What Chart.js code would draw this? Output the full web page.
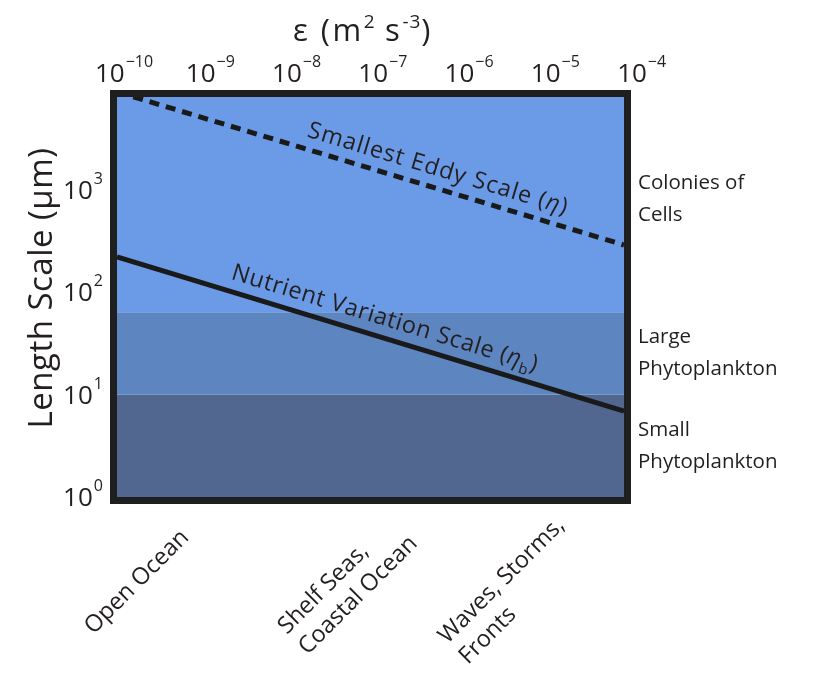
<!DOCTYPE html>
<html>
<head>
<meta charset="utf-8">
<script src="https://cdn.jsdelivr.net/npm/chart.js@4/dist/chart.umd.min.js"></script>
<style>
  html, body { margin: 0; padding: 0; background: #ffffff; }
  #wrap { width: 819px; height: 673px; }
</style>
</head>
<body>
<div id="wrap"><canvas id="c" width="819" height="673"></canvas></div>
<script>
// Decades of the dissipation rate ε (m² s⁻³) on the top axis
const epsTickExponents = [-10, -9, -8, -7, -6, -5, -4];
// Decades of length (µm) on the left axis
const lengthTickExponents = [0, 1, 2, 3];
const epsRange = [1e-10, 1e-4];
const lengthRange = [1, 8100];

// Smallest eddy (Kolmogorov) scale η and nutrient variation (Batchelor) scale η_b, µm
const eddyScale = [{ x: 1e-10, y: 9100 }, { x: 1e-4, y: 290 }];
const nutrientScale = [{ x: 1e-10, y: 222 }, { x: 1e-4, y: 6.9 }];

// Organism size classes: lower and upper bound of each band, µm
const bandBottoms = [1, 10, 64];
const bandTops = [10, 64, 8100];
const bandNames = [['Small', 'Phytoplankton'], ['Large', 'Phytoplankton'], ['Colonies of', 'Cells']];

// Flow regimes written under the plot
const regimeNames = [['Open Ocean'], ['Shelf Seas,', 'Coastal Ocean'], ['Waves, Storms,', 'Fronts']];

const FONT = "'Open Sans', 'Noto Sans', sans-serif";
const INK = '#231f20';
const bandColors = ['#52678f', '#5d85bf', '#6b9be7'];

function flat(v) { return [{ x: epsRange[0], y: v }, { x: epsRange[1], y: v }]; }

// Band fills: each band is filled down to the previous one
const bandSets = bandTops.map((top, i) => ({
  data: flat(top),
  borderWidth: 0,
  pointRadius: 0,
  backgroundColor: bandColors[i],
  fill: i === 0 ? { value: bandBottoms[0] } : '-1',
  order: 10 - i
}));

function setFont(ctx, size, style, spacing) {
  ctx.font = (style || '') + ' ' + size + 'px ' + FONT;
  ctx.letterSpacing = (spacing || 0) + 'px';
}

function drawPow(ctx, exp, x, baseY, align) {
  setFont(ctx, 26);
  const wb = ctx.measureText('10').width;
  setFont(ctx, 16);
  const es = String(exp).replace('-', '\u2212');
  const we = ctx.measureText(es).width + 1;
  const total = wb + we;
  const sx = align === 'right' ? x - total : x - total / 2;
  ctx.textAlign = 'left';
  ctx.textBaseline = 'alphabetic';
  setFont(ctx, 26);
  ctx.fillText('10', sx, baseY);
  setFont(ctx, 16);
  ctx.fillText(es, sx + wb + 1, baseY - 15);
}

function drawSegments(ctx, segs, x, y) {
  let cx = x;
  for (const s of segs) {
    setFont(ctx, s.size, s.style, s.sp);
    ctx.fillText(s.t, cx, y + (s.dy || 0));
    cx += ctx.measureText(s.t).width;
  }
}

function drawAlong(ctx, meta, xScale, epsStart, gap, segs) {
  const p0 = meta.data[0], p1 = meta.data[1];
  const ang = Math.atan2(p1.y - p0.y, p1.x - p0.x);
  const px = xScale.getPixelForValue(epsStart);
  const t = (px - p0.x) / (p1.x - p0.x);
  const py = p0.y + t * (p1.y - p0.y);
  ctx.save();
  ctx.translate(px, py);
  ctx.rotate(ang);
  ctx.textAlign = 'left';
  ctx.textBaseline = 'alphabetic';
  drawSegments(ctx, segs, 0, -gap);
  ctx.restore();
}

const decor = {
  id: 'decor',
  beforeDraw(chart) {
    const ctx = chart.ctx;
    ctx.save();
    ctx.fillStyle = '#ffffff';
    ctx.fillRect(0, 0, chart.width, chart.height);
    ctx.restore();
  },
  afterDatasetsDraw(chart) {
    const { ctx, chartArea: a, scales } = chart;
    const xs = scales.x, ys = scales.y;
    ctx.save();
    ctx.fillStyle = INK;

    // Line annotations
    const ann = 23.5;
    drawAlong(ctx, chart.getDatasetMeta(3), xs, Math.pow(10, -7.8), 12, [
      { t: 'Smallest Eddy Scale (', size: ann, sp: 1 },
      { t: 'η', size: ann, style: 'italic', sp: 1 },
      { t: ')', size: ann, sp: 1 }
    ]);
    drawAlong(ctx, chart.getDatasetMeta(4), xs, Math.pow(10, -8.7), 12, [
      { t: 'Nutrient Variation Scale (', size: ann, sp: 0.6 },
      { t: 'η', size: ann, style: 'italic', sp: 0.6 },
      { t: 'b', size: 15, dy: 6, sp: 0.6 },
      { t: ')', size: ann, sp: 0.6 }
    ]);

    // Frame
    ctx.strokeStyle = '#1f1f1f';
    ctx.lineWidth = 7;
    ctx.strokeRect(a.left - 3.5, a.top - 3.5, a.right - a.left + 7, a.bottom - a.top + 7);

    // Top axis ticks
    for (const e of epsTickExponents) {
      const x = xs.getPixelForValue(Math.pow(10, e));
      drawPow(ctx, e, x + 7 + (x - a.left) * 0.021, 82, 'center');
    }
    // Left axis ticks
    for (const e of lengthTickExponents) {
      const y = ys.getPixelForValue(Math.pow(10, e));
      drawPow(ctx, e, 103, y + 9, 'right');
    }

    // Top axis title
    ctx.textAlign = 'left';
    ctx.textBaseline = 'alphabetic';
    drawSegments(ctx, [
      { t: 'ε (m', size: 31, sp: 2.5 },
      { t: '2', size: 19, dy: -13 },
      { t: ' s', size: 31, sp: 2.5 },
      { t: '-3', size: 19, dy: -13, sp: 1 },
      { t: ')', size: 31 }
    ], 293, 41);

    // Left axis title
    ctx.save();
    ctx.translate(52, 288);
    ctx.rotate(-Math.PI / 2);
    ctx.textAlign = 'center';
    ctx.textBaseline = 'alphabetic';
    setFont(ctx, 33, '', 0.5);
    ctx.fillText('Length Scale (\u03bcm)', 0, 0);
    ctx.restore();

    // Size class names beside each band
    setFont(ctx, 20.5);
    ctx.textAlign = 'left';
    ctx.textBaseline = 'middle';
    bandNames.forEach((lines, i) => {
      const mid = Math.sqrt(bandBottoms[i] * bandTops[i]);
      const yc = ys.getPixelForValue(mid) - (i === 2 ? 5 : 0);
      const lh = 32;
      lines.forEach((ln, j) => {
        ctx.fillText(ln, a.right + 14, yc + (j - (lines.length - 1) / 2) * lh);
      });
    });

    // Flow regimes, slanted under the plot; each block is centred on its anchor
    const regimeCenters = [[137, 582], [348, 585], [512, 591]];
    const lh = 29;
    setFont(ctx, 23.5);
    ctx.textAlign = 'left';
    ctx.textBaseline = 'middle';
    regimeNames.forEach((lines, i) => {
      const w = Math.max(...lines.map(l => ctx.measureText(l).width));
      ctx.save();
      ctx.translate(regimeCenters[i][0], regimeCenters[i][1]);
      ctx.rotate(-Math.PI / 4);
      lines.forEach((ln, j) => ctx.fillText(ln, -w / 2, (j - (lines.length - 1) / 2) * lh));
      ctx.restore();
    });

    ctx.restore();
  }
};

new Chart(document.getElementById('c'), {
  type: 'line',
  data: {
    datasets: [
      ...bandSets,
      {
        label: 'Smallest Eddy Scale',
        data: eddyScale,
        borderColor: '#1a1a1a',
        borderWidth: 5,
        borderDash: [10, 7],
        borderCapStyle: 'butt',
        pointRadius: 0,
        fill: false,
        order: 1
      },
      {
        label: 'Nutrient Variation Scale',
        data: nutrientScale,
        borderColor: '#1a1a1a',
        borderWidth: 5,
        pointRadius: 0,
        fill: false,
        order: 1
      }
    ]
  },
  options: {
    responsive: false,
    animation: false,
    devicePixelRatio: 1,
    layout: { padding: { left: 117, right: 195, top: 97, bottom: 176 } },
    plugins: { legend: { display: false }, tooltip: { enabled: false }, filler: { propagate: false } },
    scales: {
      x: { type: 'logarithmic', min: epsRange[0], max: epsRange[1], display: false },
      y: { type: 'logarithmic', min: lengthRange[0], max: lengthRange[1], display: false }
    }
  },
  plugins: [decor]
});
</script>
</body>
</html>
